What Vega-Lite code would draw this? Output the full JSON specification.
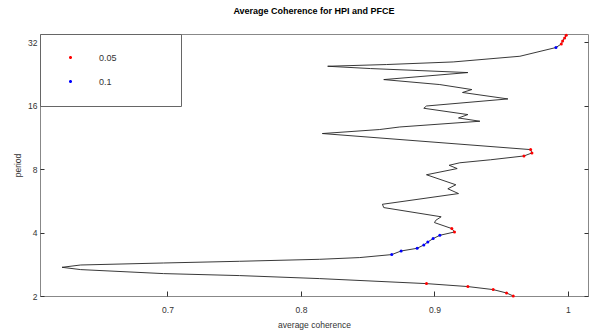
{
  "$schema": "https://vega.github.io/schema/vega-lite/v6.json",
  "width": 548,
  "height": 262,
  "autosize": {"type": "none"},
  "padding": {"left": 40, "top": 34, "right": 2, "bottom": 40},
  "background": "white",
  "title": {
    "text": "Average Coherence for HPI and PFCE",
    "font": "Liberation Sans",
    "fontSize": 9,
    "fontWeight": "bold",
    "color": "#000000",
    "anchor": "middle",
    "offset": 17
  },
  "config": {
    "view": {"stroke": "#888888", "strokeWidth": 1},
    "font": "Liberation Sans",
    "axis": {
      "grid": false,
      "domain": false,
      "tickColor": "#333333",
      "labelColor": "#333333",
      "labelFontSize": 8.5,
      "titleFontSize": 8.5,
      "titleFontWeight": "normal",
      "titleColor": "#333333",
      "labelFont": "Liberation Sans",
      "titleFont": "Liberation Sans"
    }
  },
  "data": {
    "values": [
      {"i": 1, "coh": 0.959, "period": 2.0, "sig": "0.05"},
      {"i": 2, "coh": 0.954, "period": 2.067, "sig": "0.05"},
      {"i": 3, "coh": 0.944, "period": 2.145, "sig": "0.05"},
      {"i": 4, "coh": 0.925, "period": 2.217, "sig": "0.05"},
      {"i": 5, "coh": 0.894, "period": 2.29, "sig": "0.05"},
      {"i": 6, "coh": 0.814, "period": 2.419, "sig": ""},
      {"i": 7, "coh": 0.754, "period": 2.5, "sig": ""},
      {"i": 8, "coh": 0.697, "period": 2.555, "sig": ""},
      {"i": 9, "coh": 0.635, "period": 2.669, "sig": ""},
      {"i": 10, "coh": 0.621, "period": 2.737, "sig": ""},
      {"i": 11, "coh": 0.635, "period": 2.807, "sig": ""},
      {"i": 12, "coh": 0.697, "period": 2.869, "sig": ""},
      {"i": 13, "coh": 0.754, "period": 2.923, "sig": ""},
      {"i": 14, "coh": 0.814, "period": 2.987, "sig": ""},
      {"i": 15, "coh": 0.844, "period": 3.044, "sig": ""},
      {"i": 16, "coh": 0.868, "period": 3.145, "sig": "0.1"},
      {"i": 17, "coh": 0.875, "period": 3.271, "sig": "0.1"},
      {"i": 18, "coh": 0.887, "period": 3.369, "sig": "0.1"},
      {"i": 19, "coh": 0.892, "period": 3.493, "sig": "0.1"},
      {"i": 20, "coh": 0.895, "period": 3.609, "sig": "0.1"},
      {"i": 21, "coh": 0.899, "period": 3.746, "sig": "0.1"},
      {"i": 22, "coh": 0.904, "period": 3.883, "sig": "0.1"},
      {"i": 23, "coh": 0.915, "period": 4.026, "sig": "0.05"},
      {"i": 24, "coh": 0.913, "period": 4.179, "sig": "0.05"},
      {"i": 25, "coh": 0.9, "period": 4.462, "sig": ""},
      {"i": 26, "coh": 0.901, "period": 4.576, "sig": ""},
      {"i": 27, "coh": 0.905, "period": 4.754, "sig": ""},
      {"i": 28, "coh": 0.862, "period": 5.257, "sig": ""},
      {"i": 29, "coh": 0.861, "period": 5.45, "sig": ""},
      {"i": 30, "coh": 0.918, "period": 6.128, "sig": ""},
      {"i": 31, "coh": 0.91, "period": 6.458, "sig": ""},
      {"i": 32, "coh": 0.916, "period": 6.746, "sig": ""},
      {"i": 33, "coh": 0.894, "period": 7.526, "sig": ""},
      {"i": 34, "coh": 0.917, "period": 8.053, "sig": ""},
      {"i": 35, "coh": 0.911, "period": 8.349, "sig": ""},
      {"i": 36, "coh": 0.919, "period": 8.58, "sig": ""},
      {"i": 37, "coh": 0.942, "period": 8.866, "sig": ""},
      {"i": 38, "coh": 0.967, "period": 9.242, "sig": "0.05"},
      {"i": 39, "coh": 0.973, "period": 9.551, "sig": "0.05"},
      {"i": 40, "coh": 0.972, "period": 9.908, "sig": "0.05"},
      {"i": 41, "coh": 0.816, "period": 11.81, "sig": ""},
      {"i": 42, "coh": 0.859, "period": 12.34, "sig": ""},
      {"i": 43, "coh": 0.874, "period": 12.69, "sig": ""},
      {"i": 44, "coh": 0.934, "period": 13.51, "sig": ""},
      {"i": 45, "coh": 0.918, "period": 14.0, "sig": ""},
      {"i": 46, "coh": 0.925, "period": 14.53, "sig": ""},
      {"i": 47, "coh": 0.892, "period": 15.57, "sig": ""},
      {"i": 48, "coh": 0.894, "period": 15.96, "sig": ""},
      {"i": 49, "coh": 0.955, "period": 17.24, "sig": ""},
      {"i": 50, "coh": 0.921, "period": 18.5, "sig": ""},
      {"i": 51, "coh": 0.928, "period": 19.1, "sig": ""},
      {"i": 52, "coh": 0.904, "period": 20.17, "sig": ""},
      {"i": 53, "coh": 0.862, "period": 21.3, "sig": ""},
      {"i": 54, "coh": 0.925, "period": 23.0, "sig": ""},
      {"i": 55, "coh": 0.852, "period": 24.03, "sig": ""},
      {"i": 56, "coh": 0.82, "period": 24.64, "sig": ""},
      {"i": 57, "coh": 0.864, "period": 25.11, "sig": ""},
      {"i": 58, "coh": 0.914, "period": 25.83, "sig": ""},
      {"i": 59, "coh": 0.964, "period": 27.49, "sig": ""},
      {"i": 60, "coh": 0.991, "period": 30.24, "sig": "0.1"},
      {"i": 61, "coh": 0.995, "period": 31.44, "sig": "0.05"},
      {"i": 62, "coh": 0.996, "period": 32.49, "sig": "0.05"},
      {"i": 63, "coh": 0.9975, "period": 33.58, "sig": "0.05"},
      {"i": 64, "coh": 0.9987, "period": 34.58, "sig": "0.05"}
    ]
  },
  "encoding": {
    "x": {
      "field": "coh",
      "type": "quantitative",
      "scale": {"domain": [0.6045, 1.015], "nice": false, "zero": false},
      "axis": {
        "title": "average coherence",
        "values": [0.7, 0.8, 0.9, 1],
        "format": "~g",
        "tickSize": -5,
        "labelPadding": 14,
        "titlePadding": 7
      }
    }
  },
  "layer": [
    {
      "mark": {"type": "line", "color": "#222222", "strokeWidth": 0.9},
      "encoding": {
        "y": {
          "field": "period",
          "type": "quantitative",
          "scale": {"type": "log", "base": 2, "domain": [2, 35.06], "nice": false},
          "axis": {
            "orient": "left",
            "title": "period",
            "values": [2, 4, 8, 16, 32],
            "format": "~g",
            "tickSize": -4,
            "labelPadding": 7,
            "titlePadding": 5
          }
        },
        "order": {"field": "i", "type": "quantitative"}
      }
    },
    {
      "transform": [{"filter": "datum.sig != ''"}],
      "mark": {"type": "point", "filled": true, "size": 9, "opacity": 1},
      "encoding": {
        "y": {
          "field": "period",
          "type": "quantitative",
          "scale": {"type": "log", "base": 2, "domain": [2, 35.06], "nice": false},
          "axis": {
            "orient": "right",
            "title": null,
            "labels": false,
            "values": [2, 4, 8, 16, 32],
            "tickSize": -4
          }
        },
        "color": {
          "field": "sig",
          "type": "nominal",
          "scale": {"domain": ["0.05", "0.1"], "range": ["#ff0000", "#0000ff"]},
          "legend": {
            "title": null,
            "orient": "none",
            "legendX": 0,
            "legendY": 0,
            "padding": 19,
            "rowPadding": 14,
            "strokeColor": "#666666",
            "fillColor": "#ffffff",
            "symbolType": "M-1,0A1,1,0,1,0,1,0A1,1,0,1,0,-1,0ZM0,0L57.6,0",
            "symbolSize": 10,
            "symbolStrokeWidth": 0,
            "symbolOffset": 7,
            "labelOffset": 24,
            "labelFontSize": 9,
            "labelColor": "#333333"
          }
        }
      }
    }
  ]
}
